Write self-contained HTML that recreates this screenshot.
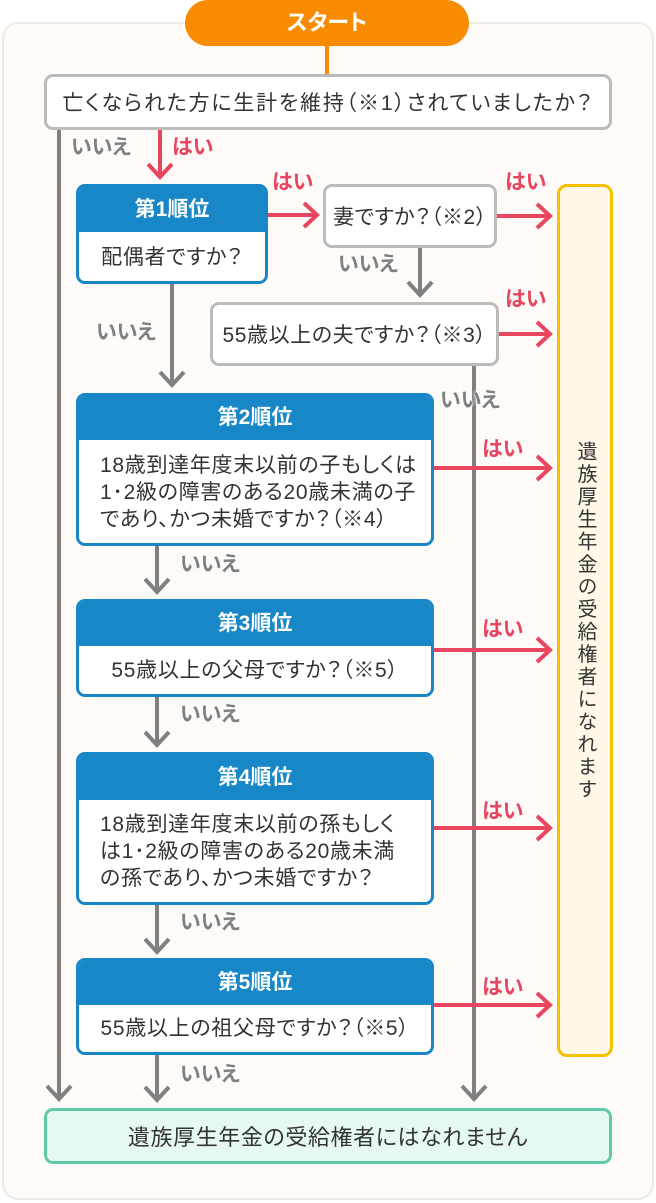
<!DOCTYPE html>
<html><head><meta charset="utf-8"><style>
*{margin:0;padding:0;box-sizing:border-box}
body{width:656px;height:1203px;position:relative;background:#fff;font-family:"Liberation Sans","Noto Sans CJK JP",sans-serif;color:#333;overflow:hidden;font-feature-settings:"palt" 1}
.a{position:absolute}
.panel{left:2px;top:22px;width:652px;height:1178px;background:#fdfaf7;border:2px solid #eeeae6;border-radius:16px}
.start{left:185px;top:0;width:284px;height:46px;background:#f98b00;border-radius:23px;color:#fff;font-weight:bold;font-size:22px;text-align:center;line-height:46px}
.box{background:#fff;border:3px solid #bbb;border-radius:9px;display:flex;align-items:center;justify-content:center;font-size:21px;white-space:nowrap;letter-spacing:0.6px}
.bl{background:#fff;border:3px solid #1787c8;border-radius:9px;overflow:hidden}
.bl .h{background:#1787c8;color:#fff;font-weight:bold;font-size:21px;text-align:center}
.bl .b{font-size:21px;line-height:27px;padding:0 0 0 21px;display:flex;align-items:center;justify-content:center;white-space:nowrap;letter-spacing:0.7px}
.lab{font-weight:bold;font-size:21px;line-height:24px;color:#808080;text-shadow:0 0 3px #fff,0 0 3px #fff}
.r{color:#e8465e}
</style></head><body>
<div class="a panel"></div>
<svg class="a" style="left:0;top:0" width="656" height="1203">
<g fill="none" stroke-width="4">
<line x1="327" y1="44" x2="327" y2="76" stroke="#f98b00"/>
<g stroke="#808080">
<line x1="59" y1="128" x2="59" y2="1098"/><polyline points="47,1086 59,1099 71,1086"/>
<line x1="474" y1="364" x2="474" y2="1098"/><polyline points="462,1086 474,1099 486,1086"/>
<line x1="172" y1="284" x2="172" y2="384"/><polyline points="160,372 172,385 184,372"/>
<line x1="420" y1="248" x2="420" y2="294"/><polyline points="408,282 420,295 432,282"/>
<line x1="157" y1="546" x2="157" y2="591"/><polyline points="145,579 157,592 169,579"/>
<line x1="157" y1="697" x2="157" y2="744"/><polyline points="145,732 157,745 169,732"/>
<line x1="157" y1="905" x2="157" y2="951"/><polyline points="145,939 157,952 169,939"/>
<line x1="157" y1="1055" x2="157" y2="1099"/><polyline points="145,1087 157,1100 169,1087"/>
</g>
<g stroke="#e8465e">
<line x1="160" y1="130" x2="160" y2="176"/><polyline points="148,164 160,177 172,164"/>
<line x1="268" y1="215" x2="316" y2="215"/><polyline points="304,203 317,215 304,227"/>
<line x1="497" y1="216" x2="549" y2="216"/><polyline points="537,204 550,216 537,228"/>
<line x1="499" y1="334" x2="549" y2="334"/><polyline points="537,322 550,334 537,346"/>
<line x1="434" y1="468" x2="549" y2="468"/><polyline points="537,456 550,468 537,480"/>
<line x1="434" y1="650" x2="549" y2="650"/><polyline points="537,638 550,650 537,662"/>
<line x1="434" y1="828" x2="549" y2="828"/><polyline points="537,816 550,828 537,840"/>
<line x1="434" y1="1005" x2="549" y2="1005"/><polyline points="537,993 550,1005 537,1017"/>
</g></g></svg>
<div class="a start">スタート</div>
<div class="a box" style="left:44px;top:74px;width:568px;height:56px;letter-spacing:1.8px">亡くなられた方に生計を維持（※1）されていましたか？</div>
<div class="a bl" style="left:76px;top:184px;width:192px;height:100px"><div class="h" style="height:45px;line-height:45px">第1順位</div><div class="b" style="height:50px;padding:0">配偶者ですか？</div></div>
<div class="a box" style="left:323px;top:184px;width:174px;height:64px">妻ですか？（※2）</div>
<div class="a box" style="left:210px;top:302px;width:289px;height:64px">55歳以上の夫ですか？（※3）</div>
<div class="a bl" style="left:76px;top:393px;width:358px;height:153px"><div class="h" style="height:44px;line-height:44px">第2順位</div><div class="b" style="height:104px;justify-content:flex-start">18歳到達年度末以前の子もしくは<br>1･2級の障害のある20歳未満の子<br>であり、かつ未婚ですか？（※4）</div></div>
<div class="a bl" style="left:76px;top:599px;width:358px;height:98px"><div class="h" style="height:44px;line-height:44px">第3順位</div><div class="b" style="height:48px;padding:0">55歳以上の父母ですか？（※5）</div></div>
<div class="a bl" style="left:76px;top:752px;width:358px;height:153px"><div class="h" style="height:45px;line-height:45px">第4順位</div><div class="b" style="height:103px;justify-content:flex-start">18歳到達年度末以前の孫もしく<br>は1･2級の障害のある20歳未満<br>の孫であり、かつ未婚ですか？</div></div>
<div class="a bl" style="left:76px;top:958px;width:358px;height:97px"><div class="h" style="height:44px;line-height:44px">第5順位</div><div class="b" style="height:47px;padding:0">55歳以上の祖父母ですか？（※5）</div></div>
<div class="a" style="left:557px;top:184px;width:56px;height:873px;background:#fff8e6;border:3px solid #f5c000;border-radius:10px;display:flex;align-items:center;justify-content:center"><div style="writing-mode:vertical-rl;font-size:20px;letter-spacing:2.5px;line-height:1">遺族厚生年金の受給権者になれます</div></div>
<div class="a box" style="left:44px;top:1108px;width:568px;height:56px;background:#e6f8f2;border-color:#5cc9a7;font-size:22px">遺族厚生年金の受給権者にはなれません</div>
<div class="a lab" style="left:71px;top:136px">いいえ</div>
<div class="a lab r" style="left:172px;top:136px">はい</div>
<div class="a lab r" style="left:272px;top:171px">はい</div>
<div class="a lab r" style="left:505px;top:171px">はい</div>
<div class="a lab" style="left:338px;top:253px">いいえ</div>
<div class="a lab r" style="left:505px;top:288px">はい</div>
<div class="a lab" style="left:96px;top:321px">いいえ</div>
<div class="a lab" style="left:440px;top:389px">いいえ</div>
<div class="a lab r" style="left:482px;top:438px">はい</div>
<div class="a lab" style="left:180px;top:553px">いいえ</div>
<div class="a lab r" style="left:482px;top:618px">はい</div>
<div class="a lab" style="left:180px;top:703px">いいえ</div>
<div class="a lab r" style="left:482px;top:800px">はい</div>
<div class="a lab" style="left:180px;top:911px">いいえ</div>
<div class="a lab r" style="left:482px;top:976px">はい</div>
<div class="a lab" style="left:180px;top:1063px">いいえ</div>
</body></html>
